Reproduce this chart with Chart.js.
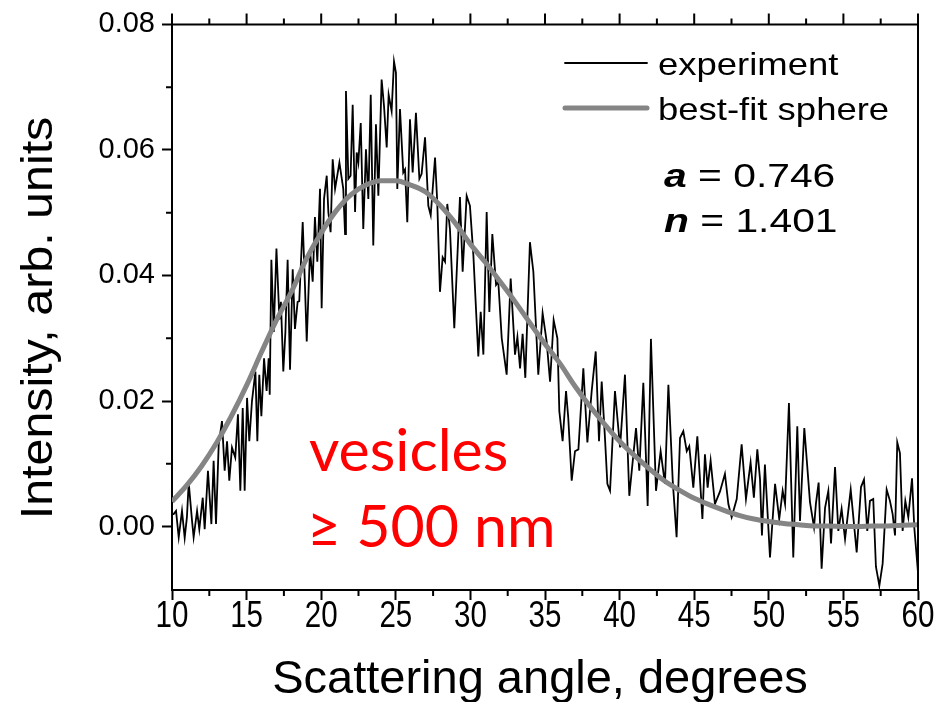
<!DOCTYPE html>
<html>
<head>
<meta charset="utf-8">
<script src="https://cdn.jsdelivr.net/npm/chart.js@4.4.1/dist/chart.umd.min.js"></script>
<style>
  html, body { margin: 0; padding: 0; background: #fff; }
  #wrap { width: 947px; height: 702px; }
</style>
</head>
<body>
<div id="wrap"><canvas id="chart" width="947" height="702"></canvas></div>
<script>
// experiment: scattering angle (deg) and intensity (arb. units)
const expAngle = [
  10.0, 10.11, 10.27, 10.45, 10.67, 10.85, 11.0, 11.12, 11.34, 11.45, 11.68, 11.83, 12.06, 12.19, 12.41, 12.64,
  12.79, 12.95, 13.13, 13.35, 13.53, 13.69, 13.84, 14.02, 14.24, 14.42, 14.58, 14.74, 14.87, 15.03, 15.18, 15.36,
  15.59, 15.72, 15.85, 15.99, 16.17, 16.34, 16.48, 16.55, 16.66, 16.82, 17.0, 17.2, 17.3, 17.46, 17.6, 17.75,
  17.91, 18.09, 18.24, 18.42, 18.53, 18.76, 18.91, 19.03, 19.25, 19.43, 19.58, 19.74, 19.92, 20.03, 20.19, 20.37,
  20.48, 20.63, 20.77, 20.93, 21.22, 21.48, 21.6, 21.66, 21.82, 21.97, 22.11, 22.27, 22.38, 22.49, 22.65, 22.82,
  23.0, 23.16, 23.32, 23.49, 23.67, 23.83, 24.05, 24.21, 24.39, 24.52, 24.72, 24.88, 25.01, 25.1, 25.28, 25.5,
  25.62, 25.77, 25.95, 26.13, 26.35, 26.58, 26.73, 26.96, 27.18, 27.34, 27.63, 27.78, 27.96, 28.14, 28.3, 28.45,
  28.63, 28.92, 29.3, 29.48, 29.75, 29.97, 30.2, 30.53, 30.69, 30.87, 31.09, 31.27, 31.47, 31.72, 31.87, 32.1,
  32.43, 32.7, 32.99, 33.15, 33.33, 33.5, 33.68, 33.99, 34.22, 34.55, 34.84, 35.11, 35.34, 35.58, 35.83, 35.96,
  36.18, 36.41, 36.56, 36.79, 37.01, 37.24, 37.57, 37.84, 38.13, 38.4, 38.62, 38.8, 39.02, 39.18, 39.36, 39.69,
  40.03, 40.36, 40.65, 41.1, 41.32, 41.59, 41.88, 42.1, 42.44, 42.75, 43.04, 43.27, 43.56, 43.82, 44.05, 44.27,
  44.5, 44.67, 44.94, 45.21, 45.55, 45.72, 45.9, 46.1, 46.39, 46.73, 47.06, 47.29, 47.51, 47.85, 48.18, 48.47,
  48.78, 49.0, 49.23, 49.41, 49.54, 49.74, 50.08, 50.42, 50.7, 50.93, 51.09, 51.35, 51.64, 51.91, 52.09, 52.38,
  52.76, 53.03, 53.16, 53.34, 53.54, 53.77, 53.99, 54.17, 54.44, 54.66, 54.88, 55.11, 55.49, 55.89, 56.18, 56.38,
  56.6, 56.78, 57.0, 57.18, 57.41, 57.63, 57.9, 58.12, 58.3, 58.46, 58.61, 58.79, 58.97, 59.15, 59.35, 59.6,
  59.75, 60.0
];
const expIntensity = [
  0.0020, 0.0020, 0.0025, -0.0017, 0.0025, -0.0018, 0.0015, 0.0070, 0.0010, -0.0017, 0.0025, -0.0004, 0.0046, -0.0004, 0.0089, 0.0004,
  0.0105, 0.0004, 0.0131, 0.0168, 0.0089, 0.0136, 0.0073, 0.0126, 0.0110, 0.0179, 0.0057, 0.0189, 0.0057, 0.0205, 0.0136, 0.0200,
  0.0247, 0.0136, 0.0242, 0.0176, 0.0268, 0.0216, 0.0268, 0.0210, 0.0425, 0.0310, 0.0443, 0.0330, 0.0358, 0.0247, 0.0310, 0.0425,
  0.0250, 0.0410, 0.0315, 0.0358, 0.0359, 0.0485, 0.0385, 0.0295, 0.0440, 0.0390, 0.0493, 0.0422, 0.0538, 0.0348, 0.0522, 0.0559,
  0.0501, 0.0469, 0.0585, 0.0538, 0.0580, 0.0538, 0.0466, 0.0694, 0.0554, 0.0559, 0.0672, 0.0501, 0.0596, 0.0580, 0.0643, 0.0474,
  0.0601, 0.0522, 0.0688, 0.0448, 0.0641, 0.0527, 0.0712, 0.0670, 0.0604, 0.0688, 0.0662, 0.0741, 0.0723, 0.0538, 0.0665, 0.0564,
  0.0569, 0.0485, 0.0649, 0.0564, 0.0659, 0.0554, 0.0562, 0.0620, 0.0511, 0.0496, 0.0588, 0.0516, 0.0374, 0.0429, 0.0422, 0.0514,
  0.0474, 0.0316, 0.0525, 0.0406, 0.0527, 0.0511, 0.0432, 0.0271, 0.0342, 0.0274, 0.0501, 0.0342, 0.0466, 0.0385, 0.0390, 0.0300,
  0.0242, 0.0395, 0.0274, 0.0302, 0.0252, 0.0307, 0.0237, 0.0453, 0.0406, 0.0242, 0.0340, 0.0295, 0.0231, 0.0329, 0.0300, 0.0184,
  0.0136, 0.0216, 0.0173, 0.0073, 0.0120, 0.0123, 0.0252, 0.0134, 0.0216, 0.0279, 0.0136, 0.0231, 0.0141, 0.0068, 0.0057, 0.0216,
  0.0126, 0.0242, 0.0049, 0.0157, 0.0089, 0.0229, 0.0033, 0.0299, 0.0057, 0.0120, 0.0068, 0.0226, 0.0073, -0.0017, 0.0141, 0.0152,
  0.0120, 0.0128, 0.0062, 0.0144, 0.0012, 0.0115, 0.0062, 0.0105, 0.0036, 0.0056, 0.0084, 0.0036, 0.0015, 0.0044, 0.0131, 0.0044,
  0.0102, 0.0046, 0.0123, 0.0076, -0.0014, 0.0099, -0.0049, 0.0068, 0.0012, 0.0057, 0.0036, 0.0197, -0.0049, 0.0160, 0.0009, 0.0157,
  0.0039, -0.0001, 0.0037, 0.0070, -0.0067, 0.0030, 0.0057, -0.0027, 0.0095, -0.0007, 0.0028, -0.0020, 0.0059, -0.0041, 0.0063, 0.0075,
  -0.0007, 0.0041, 0.0044, -0.0064, -0.0094, -0.0059, 0.0059, 0.0041, 0.0020, -0.0014, 0.0134, 0.0117, -0.0007, 0.0041, 0.0015, 0.0077,
  -0.0001, -0.0073
];

// best-fit sphere curve, read every degree
const fitAngle = [
  10, 11, 12, 13, 14, 15, 16, 17, 18, 19, 20, 21, 22, 23, 24, 25, 26, 27, 28, 29, 30, 31, 32, 33, 34, 35,
  36, 37, 38, 39, 40, 41, 42, 43, 44, 45, 46, 47, 48, 49, 50, 51, 52, 53, 54, 55, 56, 57, 58, 59, 60
];
const fitIntensity = [
  0.0040, 0.0066, 0.0097, 0.0134, 0.0177, 0.0225, 0.0278, 0.0329, 0.0374, 0.0426, 0.0468, 0.0503, 0.0529, 0.0544, 0.0551, 0.0551,
  0.0544, 0.0533, 0.0511, 0.0483, 0.0450, 0.0421, 0.0390, 0.0358, 0.0324, 0.0291, 0.0260, 0.0224, 0.0192, 0.0163, 0.0136, 0.0113,
  0.0092, 0.0073, 0.0058, 0.0045, 0.0035, 0.0026, 0.0018, 0.0012, 0.0008, 0.0005, 0.0003, 0.0001, 0.0001, 0.0000, 0.0000, 0.0001,
  0.0001, 0.0002, 0.0003
];

const xTicks = [10, 15, 20, 25, 30, 35, 40, 45, 50, 55, 60];
const xMinor = [12.5, 17.5, 22.5, 27.5, 32.5, 37.5, 42.5, 47.5, 52.5, 57.5];
const yTicks = [0, 0.02, 0.04, 0.06, 0.08];
const yMinor = [0.01, 0.03, 0.05, 0.07];

const toPoints = (xs, ys) => xs.map((x, i) => ({ x: x, y: ys[i] }));
const ARIAL = '"Liberation Sans", Arial, sans-serif';

// frame, minor ticks, narrow x labels, axis titles, legend and notes
const extras = {
  id: 'extras',
  afterDraw(chart) {
    const { ctx, chartArea: a, scales: { x, y } } = chart;
    ctx.save();
    ctx.strokeStyle = '#000';
    ctx.lineWidth = 2;
    ctx.beginPath();
    ctx.moveTo(a.left - 1, a.top);
    ctx.lineTo(a.right, a.top);
    ctx.lineTo(a.right, a.bottom + 1);
    xTicks.forEach(v => { const p = x.getPixelForValue(v); ctx.moveTo(p, a.top); ctx.lineTo(p, a.top - 11); });
    xMinor.forEach(v => {
      const p = x.getPixelForValue(v);
      ctx.moveTo(p, a.top); ctx.lineTo(p, a.top - 6);
      ctx.moveTo(p, a.bottom); ctx.lineTo(p, a.bottom + 6);
    });
    yMinor.forEach(v => { const p = y.getPixelForValue(v); ctx.moveTo(a.left, p); ctx.lineTo(a.left - 6, p); });
    ctx.stroke();

    ctx.fillStyle = '#000';

    // x tick labels are drawn condensed, like the original
    ctx.font = '36px ' + ARIAL;
    ctx.textAlign = 'center';
    ctx.textBaseline = 'alphabetic';
    xTicks.forEach(v => {
      ctx.save();
      ctx.translate(x.getPixelForValue(v), a.bottom + 37);
      ctx.scale(0.82, 1);
      ctx.fillText(String(v), 0, 0);
      ctx.restore();
    });

    // axis titles
    ctx.font = '47px ' + ARIAL;
    ctx.fillText('Scattering angle, degrees', 540, 693);
    ctx.save();
    ctx.translate(52, 318);
    ctx.rotate(-Math.PI / 2);
    ctx.scale(1.1, 1);
    ctx.font = '44px ' + ARIAL;
    ctx.fillText('Intensity, arb. units', 0, 0);
    ctx.restore();

    // legend
    ctx.textAlign = 'left';
    const ds = chart.data.datasets;
    const rows = [63, 108];
    ctx.font = '32px ' + ARIAL;
    ds.forEach((d, i) => {
      ctx.beginPath();
      ctx.strokeStyle = d.borderColor;
      ctx.lineWidth = d.borderWidth;
      ctx.lineCap = 'round';
      ctx.moveTo(565, rows[i]);
      ctx.lineTo(647, rows[i]);
      ctx.stroke();
      ctx.save();
      ctx.translate(658, rows[i] + 12);
      ctx.scale(1.14, 1);
      ctx.fillText(d.label, 0, 0);
      ctx.restore();
    });

    // fit parameters
    [['a', ' = 0.746', 187], ['n', ' = 1.401', 232]].forEach(r => {
      ctx.save();
      ctx.translate(664, r[2]);
      ctx.scale(1.2, 1);
      ctx.font = 'italic bold 34px ' + ARIAL;
      ctx.fillText(r[0], 0, 0);
      const w = ctx.measureText(r[0]).width;
      ctx.font = '34px ' + ARIAL;
      ctx.fillText(r[1], w, 0);
      ctx.restore();
    });

    // sample note
    ctx.fillStyle = '#ff0000';
    ctx.font = '59px Lato, sans-serif';
    ctx.fillText('vesicles', 309, 471);
    ctx.fillText('\u2265 500 nm', 307, 547);
    ctx.restore();
  }
};

new Chart(document.getElementById('chart'), {
  type: 'line',
  data: {
    datasets: [
      {
        label: 'experiment',
        data: toPoints(expAngle, expIntensity),
        borderColor: '#000000',
        borderWidth: 1.8,
        pointRadius: 0,
        tension: 0,
        order: 1
      },
      {
        label: 'best-fit sphere',
        data: toPoints(fitAngle, fitIntensity),
        borderColor: '#858585',
        borderWidth: 5,
        pointRadius: 0,
        cubicInterpolationMode: 'monotone',
        order: 0
      }
    ]
  },
  plugins: [extras],
  options: {
    responsive: false,
    animation: false,
    layout: { padding: { top: 21, right: 29, left: 0, bottom: 0 } },
    plugins: { legend: { display: false }, tooltip: { enabled: false } },
    scales: {
      x: {
        type: 'linear',
        min: 10,
        max: 60,
        afterBuildTicks: s => { s.ticks = xTicks.map(v => ({ value: v })); },
        afterFit: s => { s.height = 112; },
        grid: { drawOnChartArea: false, tickLength: 10, tickWidth: 2, tickColor: '#000' },
        border: { color: '#000', width: 2 },
        ticks: {
          color: 'rgba(0,0,0,0)',
          maxRotation: 0,
          font: { family: ARIAL, size: 30 }
        }
      },
      y: {
        min: -0.0101,
        max: 0.08,
        afterBuildTicks: s => { s.ticks = yTicks.map(v => ({ value: v })); },
        afterFit: s => { s.width = 172; },
        grid: { drawOnChartArea: false, tickLength: 10, tickWidth: 2, tickColor: '#000' },
        border: { color: '#000', width: 2 },
        ticks: {
          color: '#000',
          padding: 7,
          font: { family: ARIAL, size: 29 },
          callback: v => v.toFixed(2)
        }
      }
    }
  }
});
</script>
</body>
</html>
